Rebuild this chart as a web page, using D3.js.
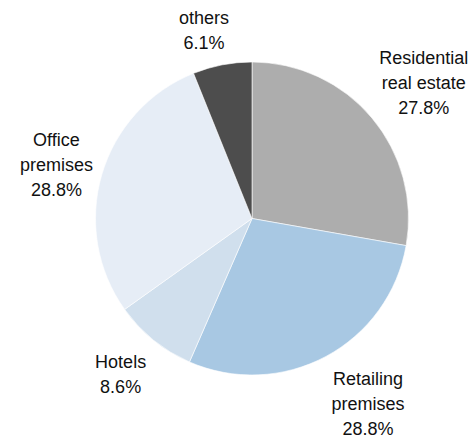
<!DOCTYPE html>
<html>
<head>
<meta charset="utf-8">
<script src="https://cdn.jsdelivr.net/npm/d3@7"></script>
<style>
  html, body { margin: 0; padding: 0; background: #ffffff; }
  svg { display: block; }
  text { font-family: "Liberation Sans", Arial, sans-serif; font-size: 18px; fill: #111111; }
</style>
</head>
<body>
<svg id="chart" width="473" height="441"></svg>
<script>
// Slices in clockwise order starting at 12 o'clock
const categories = ["Residential real estate", "Retailing premises", "Hotels", "Office premises", "others"];
const labelLines = [["Residential", "real estate"], ["Retailing", "premises"], ["Hotels"], ["Office", "premises"], ["others"]];
const shares = [27.8, 28.8, 8.6, 28.8, 6.1];
const colors = ["#adadad", "#a8c8e3", "#d0dfed", "#e6edf6", "#4d4d4d"];

// Label anchor: radius as a multiple of the pie radius, and a small angular nudge (degrees)
const labelRadius = [1.40, 1.395, 1.30, 1.296, 1.246];
const labelNudge = [1.6, -3.9, 1.2, -0.9, -3.3];

const width = 473, height = 441;
const cx = 252, cy = 218.5, radius = 156.5;
const lineHeight = 25;

const svg = d3.select("#chart");
const g = svg.append("g").attr("transform", `translate(${cx},${cy})`);

const data = categories.map((c, i) => ({ name: c, value: shares[i], i }));

const pie = d3.pie().value(d => d.value).sort(null);
const arc = d3.arc().innerRadius(0).outerRadius(radius);
const arcs = pie(data);

g.selectAll("path.slice")
  .data(arcs)
  .join("path")
  .attr("class", "slice")
  .attr("d", arc)
  .attr("fill", d => colors[d.data.i])
  .attr("stroke", "#ffffff")
  .attr("stroke-width", 0.6);

const labels = g.selectAll("text.label")
  .data(arcs)
  .join("text")
  .attr("class", "label")
  .attr("text-anchor", "middle")
  .each(function (d) {
    const i = d.data.i;
    const mid = (d.startAngle + d.endAngle) / 2 + labelNudge[i] * Math.PI / 180;
    const r = radius * labelRadius[i];
    const x = r * Math.sin(mid);
    const y = -r * Math.cos(mid);
    const lines = labelLines[i].concat([d3.format(".1f")(d.data.value) + "%"]);
    const firstBaseline = y - (lines.length - 1) * lineHeight / 2 + 6.5;
    const t = d3.select(this);
    lines.forEach((ln, k) => {
      t.append("tspan")
        .attr("x", x)
        .attr("y", firstBaseline + k * lineHeight)
        .text(ln);
    });
  });
</script>
</body>
</html>
